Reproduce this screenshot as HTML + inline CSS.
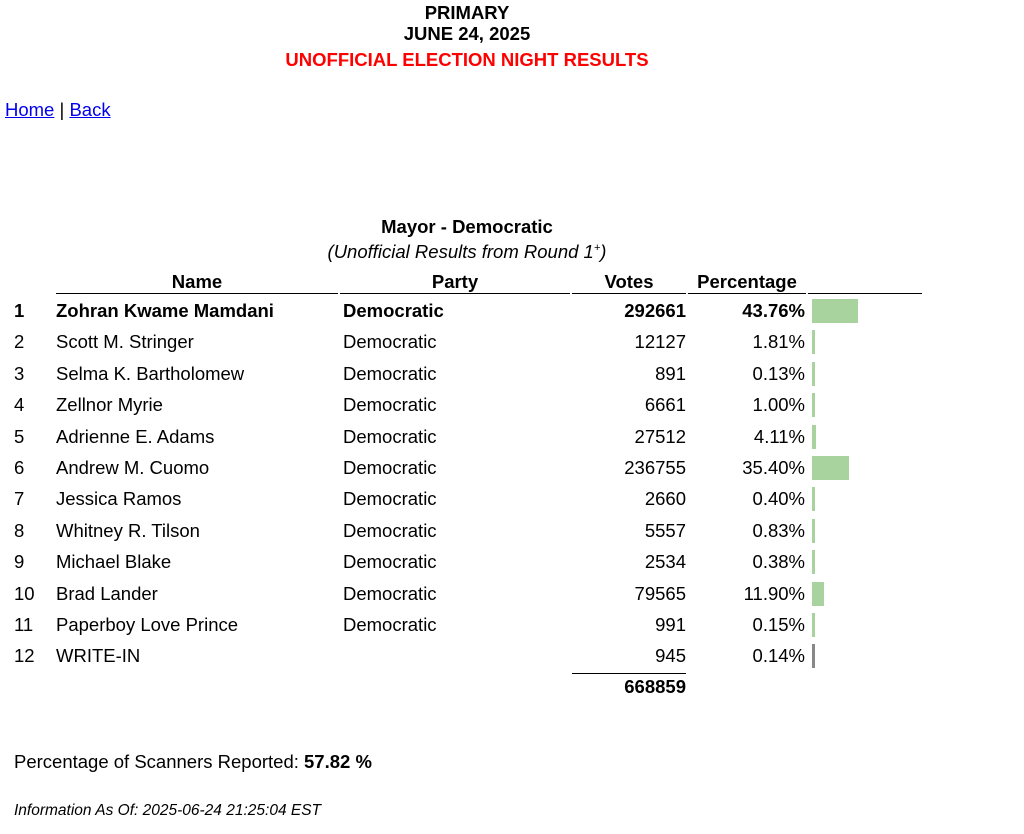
<!DOCTYPE html>
<html><head><meta charset="utf-8"><style>
body{margin:0;width:1024px;height:834px;background:#fff;font-family:"Liberation Sans",Arial,sans-serif;color:#000;position:relative;overflow:hidden}
.t{position:absolute;line-height:1;white-space:nowrap;font-size:18.5px}
.c{text-align:center}
.r{text-align:right}
.b{font-weight:bold}
.ln{position:absolute;height:1px;background:#000}
.bar{position:absolute;background:#a8d29e;height:24px}
a{color:#00e;text-decoration:underline}
</style></head><body>
<div class="t c b" style="left:267px;width:400px;top:4px;font-size:18.5px">PRIMARY</div>
<div class="t c b" style="left:267px;width:400px;top:25px;font-size:18.5px">JUNE 24, 2025</div>
<div class="t c b" style="left:167px;width:600px;top:51px;font-size:18.5px;color:#f00">UNOFFICIAL ELECTION NIGHT RESULTS</div>
<div class="t" style="left:5px;top:101px"><a>Home</a> | <a>Back</a></div>
<div class="t c b" style="left:267px;width:400px;top:218px">Mayor - Democratic</div>
<div class="t c" style="left:267px;width:400px;top:243px;font-style:italic">(Unofficial Results from Round 1<sup style="font-size:11px">+</sup>)</div>
<div class="t c b" style="left:56px;width:282px;top:273px">Name</div>
<div class="t c b" style="left:340px;width:230px;top:273px">Party</div>
<div class="t c b" style="left:572px;width:114px;top:273px">Votes</div>
<div class="t c b" style="left:688px;width:118px;top:273px">Percentage</div>
<div class="ln" style="left:56px;width:282px;top:293px"></div>
<div class="ln" style="left:340px;width:230px;top:293px"></div>
<div class="ln" style="left:572px;width:114px;top:293px"></div>
<div class="ln" style="left:688px;width:118px;top:293px"></div>
<div class="ln" style="left:808px;width:114px;top:293px"></div>
<div id="rows"></div>
<div class="ln" style="left:572px;width:114px;top:673px"></div>
<div class="t r b" style="left:572px;width:114px;top:678px">668859</div>
<div class="t" style="left:14px;top:753px">Percentage of Scanners Reported: <b>57.82 %</b></div>
<div class="t" style="left:14px;top:803px;font-size:15.5px;font-style:italic">Information As Of: 2025-06-24 21:25:04 EST</div>
<script>
var d=[["Zohran Kwame Mamdani","Democratic","292661","43.76"],["Scott M. Stringer","Democratic","12127","1.81"],["Selma K. Bartholomew","Democratic","891","0.13"],["Zellnor Myrie","Democratic","6661","1.00"],["Adrienne E. Adams","Democratic","27512","4.11"],["Andrew M. Cuomo","Democratic","236755","35.40"],["Jessica Ramos","Democratic","2660","0.40"],["Whitney R. Tilson","Democratic","5557","0.83"],["Michael Blake","Democratic","2534","0.38"],["Brad Lander","Democratic","79565","11.90"],["Paperboy Love Prince","Democratic","991","0.15"],["WRITE-IN","","945","0.14"]];
var h="";
d.forEach(function(r,i){
var y=311+i*31.4,top=y-9,b=i==0?" b":"";
h+='<div class="t'+b+'" style="left:14px;top:'+top+'px">'+(i+1)+'</div>';
h+='<div class="t'+b+'" style="left:56px;top:'+top+'px">'+r[0]+'</div>';
h+='<div class="t'+b+'" style="left:343px;top:'+top+'px">'+r[1]+'</div>';
h+='<div class="t r'+b+'" style="left:572px;width:114px;top:'+top+'px">'+r[2]+'</div>';
h+='<div class="t r'+b+'" style="left:688px;width:117px;top:'+top+'px">'+r[3]+'%</div>';
var w=Math.max(3,Math.round(parseFloat(r[3])*1.05));
h+='<div class="bar" style="left:812px;width:'+w+'px;top:'+(y-12)+'px;'+(i==11?'background:#888':'')+'"></div>';
});
document.getElementById("rows").innerHTML=h;
</script>
</body></html>
